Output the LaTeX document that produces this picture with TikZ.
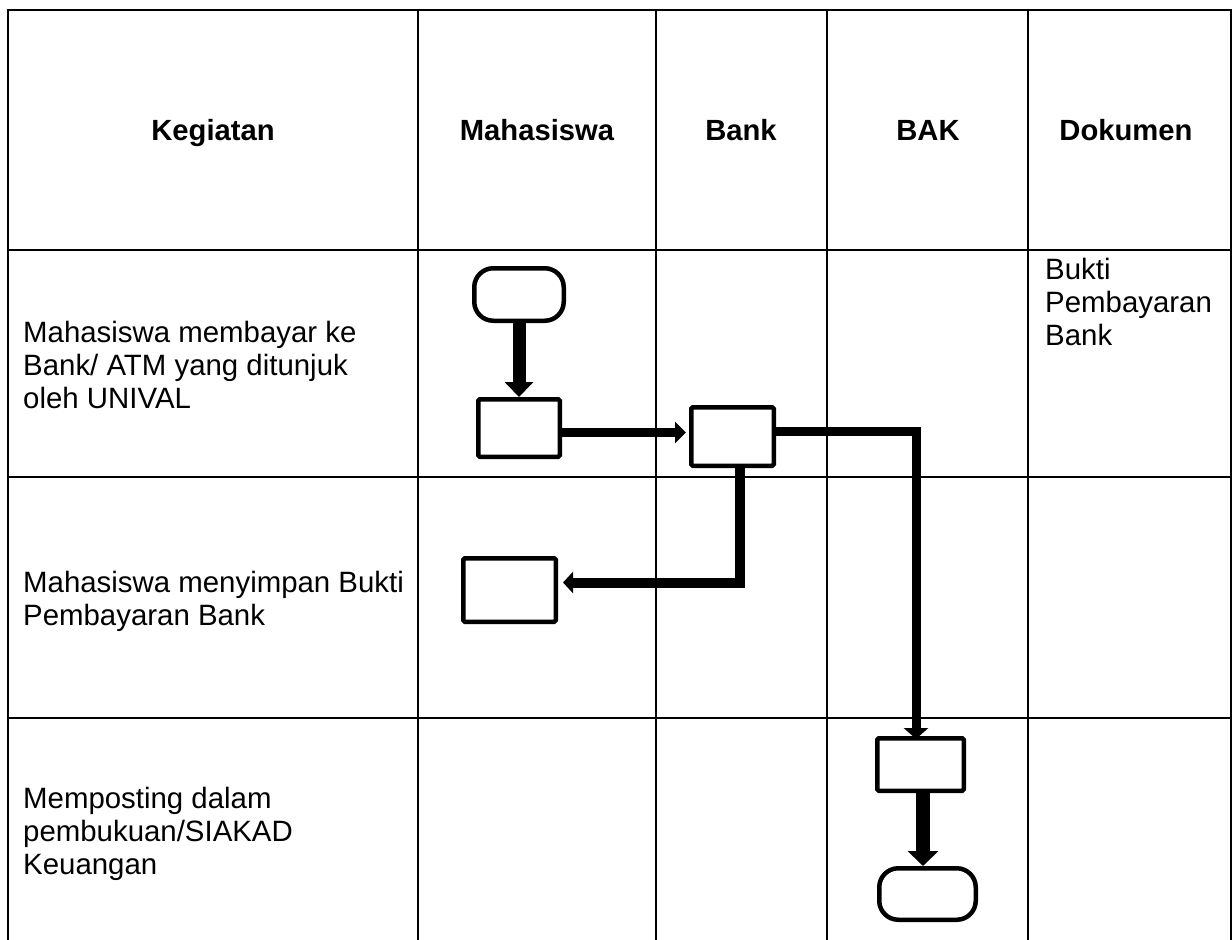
\documentclass[tikz,border=0pt]{standalone}
\usepackage{fontspec}
\setmainfont{Liberation Sans}
\usetikzlibrary{arrows.meta}
\begin{document}
\begin{tikzpicture}[x=1pt,y=-1pt,
  grid/.style={line width=2.2pt},
  body/.style={font=\fontsize{29.4}{33}\selectfont, align=left, inner sep=0pt, anchor=north west},
  head/.style={font=\fontsize{29.2}{33}\selectfont\bfseries, inner sep=0pt, anchor=base},
  proc/.style={draw, line width=4.5pt, rounded corners=1.5pt, fill=white, inner sep=0pt},
  term/.style={draw, line width=4.5pt, rounded corners=19pt, fill=white, inner sep=0pt},
  flow/.style={line width=#1, line join=miter},
]
\useasboundingbox (0,0) rectangle (1232,940);
% table grid
\draw[grid] (8.3,945) -- (8.3,10) -- (1231,10) -- (1231,945);
\draw[grid] (8.3,250) -- (1231,250);
\draw[grid] (8.3,477) -- (1231,477);
\draw[grid] (8.3,718) -- (1231,718);
\foreach \cx in {418,656,827,1028} \draw[grid] (\cx,10) -- (\cx,945);
% headers
\node[head] (h1) at (213,140) {Kegiatan};
\node[head] (h2) at (537,140) {Mahasiswa};
\node[head] (h3) at (741,140) {Bank};
\node[head] (h4) at (928,140) {BAK};
\node[head] (h5) at (1126,140) {Dokumen};
% activity texts
\node[body] (t1) at (23,320.5) {Mahasiswa membayar ke\\Bank/ ATM yang ditunjuk\\oleh UNIVAL};
\node[body] (t2) at (23,571) {Mahasiswa menyimpan Bukti\\Pembayaran Bank};
\node[body] (t3) at (23,787) {Memposting dalam\\pembukuan/SIAKAD\\Keuangan};
\node[body] (t4) at (1045,258) {Bukti\\Pembayaran\\Bank};
% flow shapes
\node[term, minimum width=89.5pt, minimum height=52.5pt] (s) at (519,294.5) {};
\node[proc, minimum width=81.5pt, minimum height=57.5pt] (a1) at (519,428) {};
\node[proc, minimum width=82.5pt, minimum height=58.5pt] (b) at (732.5,436.5) {};
\node[proc, minimum width=92.5pt, minimum height=63.5pt] (c) at (509.5,590) {};
\node[proc, minimum width=86.5pt, minimum height=52.5pt] (d) at (920.5,764.5) {};
\node[term, minimum width=96.5pt, minimum height=51.5pt] (e) at (927.5,894) {};
% helper coordinates
\coordinate (y12) at (0,432.5);
\coordinate (k1) at (916,431.5);
\coordinate (k2) at (740,582.5);
\coordinate (k3) at (923,0);
% connectors
\draw[flow=13pt, -{Triangle[width=28pt,length=15pt]}] (s.south) -- (a1.north);
\draw[flow=9.5pt, -{Triangle[width=21pt,length=11pt]}] (a1.east |- y12) -- ([xshift=-3pt]b.west |- y12);
\draw[flow=9pt, -{Triangle[width=24pt,length=11pt]}] (b.east |- k1) -- (k1) -- ([yshift=-3pt]k1 |- d.north);
\draw[flow=10pt, -{Triangle[width=21pt,length=10pt]}] ([yshift=2pt]b.south -| k2) -- (k2) -- ([xshift=5pt]c.east |- k2);
\draw[flow=14pt, -{Triangle[width=30pt,length=15pt]}] (d.south -| k3) -- (e.north -| k3);
\end{tikzpicture}
\end{document}
